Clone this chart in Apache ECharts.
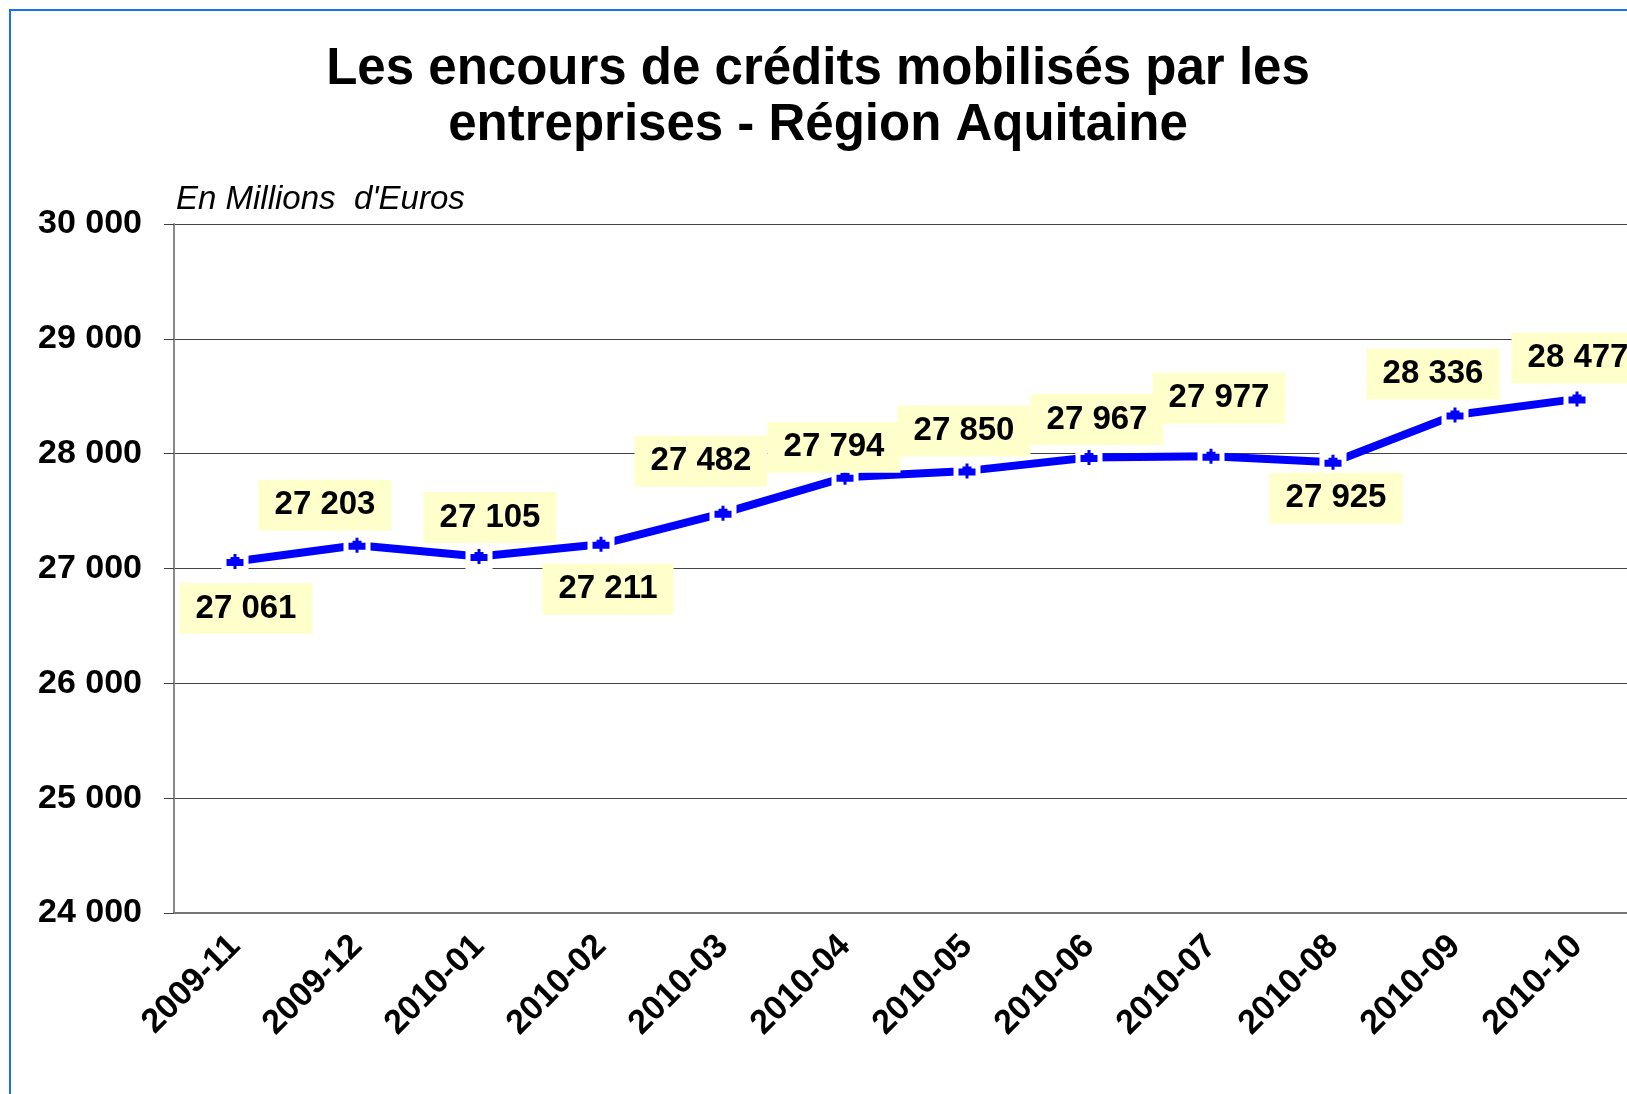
<!DOCTYPE html>
<html>
<head>
<meta charset="utf-8">
<title>Encours de crédits - Aquitaine</title>
<script src="https://cdn.jsdelivr.net/npm/echarts@6/dist/echarts.min.js"></script>
<style>
  body { margin: 0; overflow: hidden; background: #fff; }
  #frame { position: absolute; left: 9px; top: 9px; width: 2000px; height: 2000px;
           border-left: 2px solid #1670ff; border-top: 2px solid #1670ff; }
  #main { position: absolute; left: 0; top: 0; width: 1660px; height: 1094px; }
</style>
</head>
<body>
<div id="frame"></div>
<div id="main"></div>
<script type="text/javascript">
// données
var months = ['2009-11', '2009-12', '2010-01', '2010-02', '2010-03', '2010-04',
              '2010-05', '2010-06', '2010-07', '2010-08', '2010-09', '2010-10'];
var encours = [27061, 27203, 27105, 27211, 27482, 27794, 27850, 27967, 27977, 27925, 28336, 28477];
var yTicks = [24000, 25000, 26000, 27000, 28000, 29000, 30000];

// décalage des étiquettes par rapport au point (px)
var labelOffsets = [[11, 47], [-32, -40], [11, -39], [7, 45], [-22, -52], [-11, -30],
                    [-3, -40], [8, -38], [8, -58], [3, 36], [-22, -41], [1, -41]];

function fmt(v) {
    return String(v).replace(/\B(?=(\d{3})+(?!\d))/g, ' ');
}

var FONT = '"Liberation Sans", Arial, sans-serif';
var marker = 'path://M7,0 L10,0 L10,3 L13,3 L13,5 L17,5 L17,12 L10,12 L10,15 L7,15 L7,12 L0,12 L0,5 L4,5 L4,3 L7,3 Z';

var pointData = [];
for (let i = 0; i < encours.length; i++) {
    pointData.push({ value: encours[i], label: { offset: labelOffsets[i] } });
}

var myChart = echarts.init(document.getElementById('main'));
var option = {
    animation: false,
    backgroundColor: 'transparent',
    textStyle: { fontFamily: FONT },
    title: [
        {
            text: 'Les encours de crédits mobilisés par les\nentreprises - Région Aquitaine',
            left: 813,
            top: 37,
            textAlign: 'center',
            textStyle: { fontFamily: FONT, fontSize: 51, fontWeight: 'bold', color: '#000', lineHeight: 56 }
        },
        {
            text: 'En Millions  d\'Euros',
            left: 171,
            top: 178,
            textStyle: { fontFamily: FONT, fontSize: 33, fontStyle: 'italic', fontWeight: 'normal', color: '#000', lineHeight: 34 }
        }
    ],
    grid: { left: 174, top: 224, right: 22, bottom: 181, containLabel: false },
    xAxis: {
        type: 'category',
        data: months,
        boundaryGap: true,
        axisLine: { lineStyle: { color: '#777', width: 2 } },
        axisTick: { show: false },
        axisLabel: {
            interval: 0, rotate: 45, margin: 28,
            fontFamily: FONT, fontSize: 34, fontWeight: 'bold', color: '#000'
        },
        splitLine: { show: false }
    },
    yAxis: {
        type: 'value',
        min: yTicks[0],
        max: yTicks[yTicks.length - 1],
        interval: 1000,
        axisLine: { show: true, lineStyle: { color: '#888', width: 2 } },
        axisTick: { show: true, length: 10, lineStyle: { color: '#444' } },
        axisLabel: {
            margin: 32, formatter: fmt,
            fontFamily: FONT, fontSize: 34, fontWeight: 'bold', color: '#000'
        },
        splitLine: { lineStyle: { color: '#444', width: 1 } }
    },
    series: [
        {
            // la courbe
            type: 'line',
            data: encours,
            showSymbol: false,
            lineStyle: { color: '#0000ff', width: 8 },
            z: 2,
            silent: true
        },
        {
            // fond blanc autour des marqueurs
            type: 'line',
            data: encours,
            symbol: 'rect',
            symbolSize: [27, 26],
            showAllSymbol: true,
            lineStyle: { width: 0, opacity: 0 },
            itemStyle: { color: '#fff' },
            z: 3,
            silent: true
        },
        {
            // marqueurs + étiquettes
            type: 'line',
            data: pointData,
            symbol: marker,
            symbolSize: [17, 15],
            showAllSymbol: true,
            lineStyle: { width: 0, opacity: 0 },
            itemStyle: { color: '#0000ff' },
            label: {
                show: true,
                position: 'inside',
                formatter: function (p) { return fmt(p.value); },
                fontFamily: FONT, fontSize: 33, fontWeight: 'bold', color: '#000',
                backgroundColor: '#ffffcc',
                padding: [9, 16]
            },
            z: 4
        }
    ]
};
myChart.setOption(option);
</script>
</body>
</html>
